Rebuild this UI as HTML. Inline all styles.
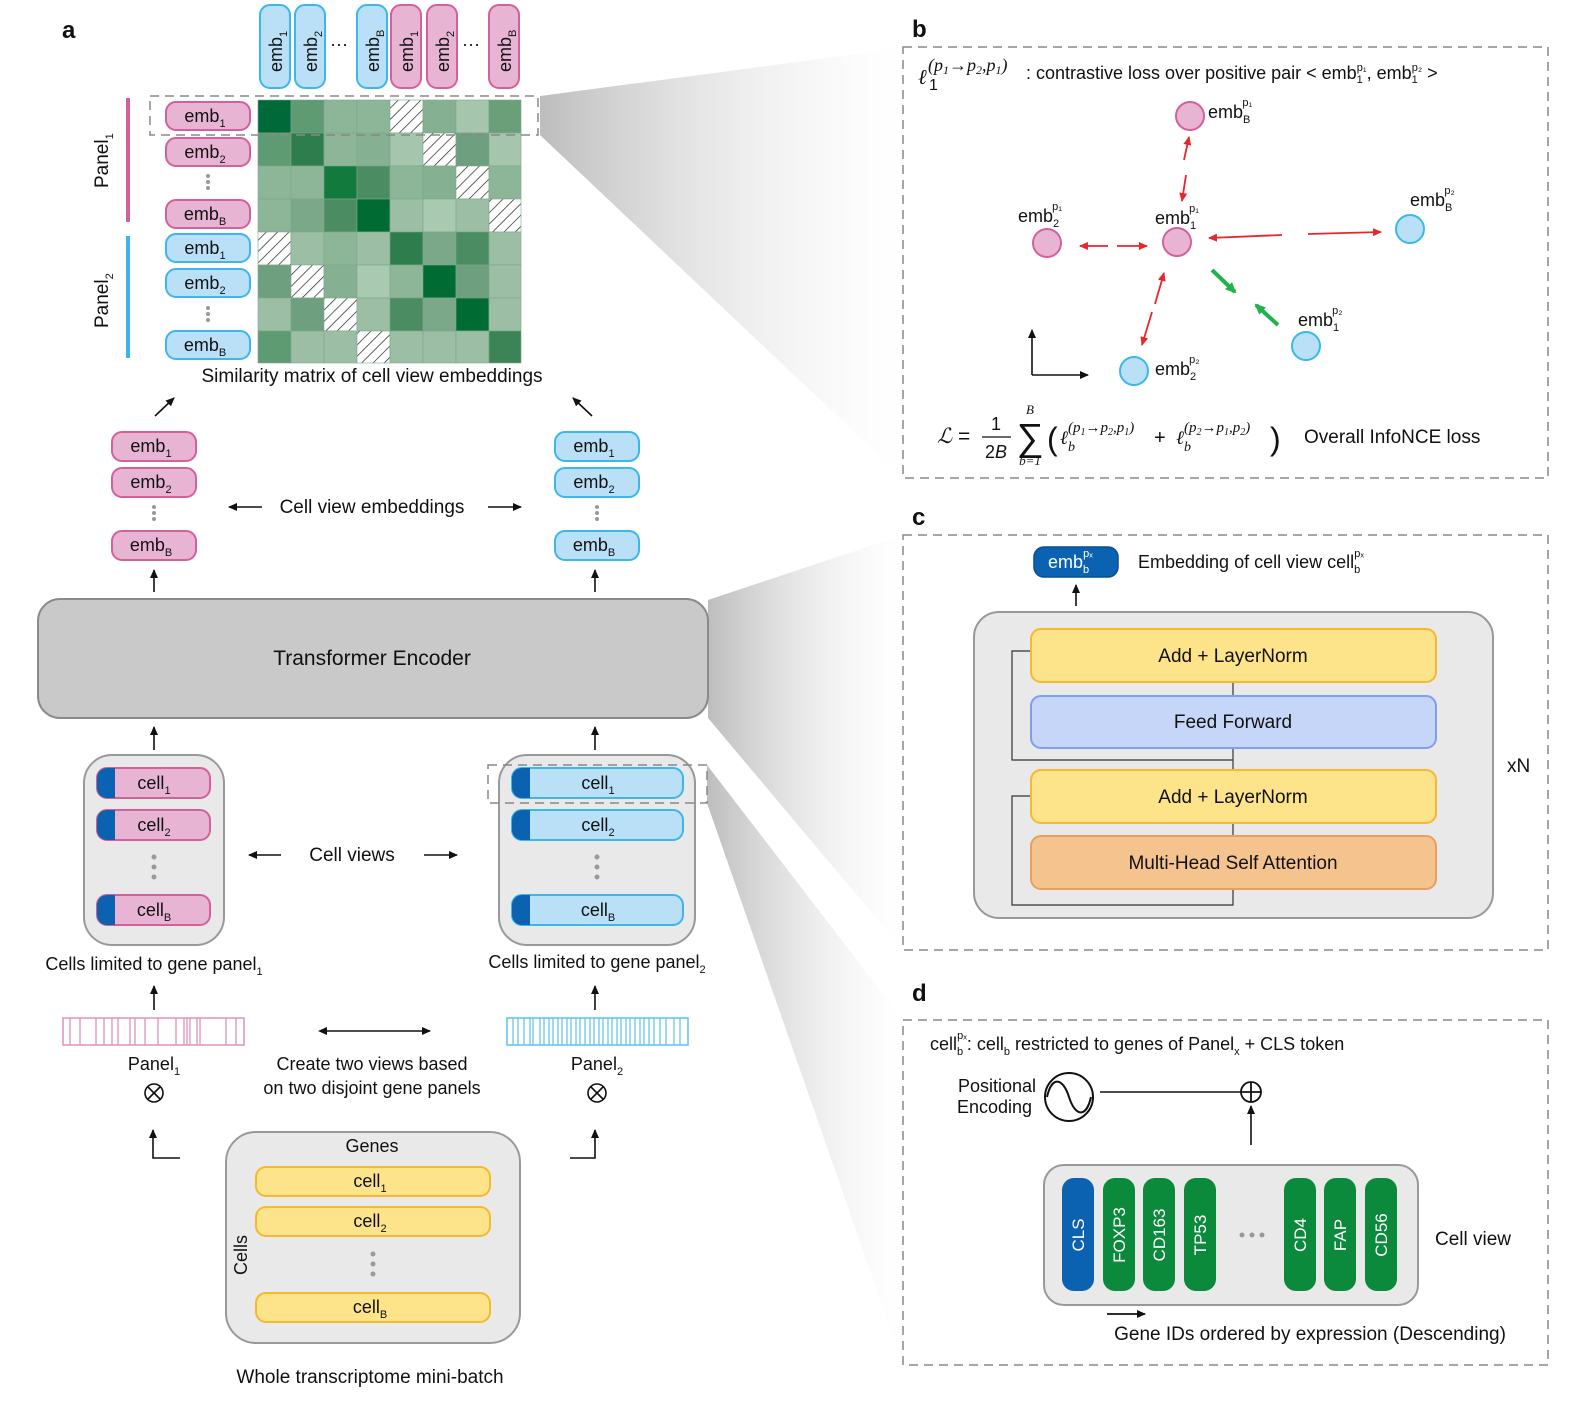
<!DOCTYPE html>
<html><head><meta charset="utf-8"><style>
html,body{margin:0;padding:0;background:#fff}
svg{display:block}
text{font-family:"Liberation Sans",Arial,sans-serif;fill:#111}
.s{font-size:11px}
.m{font-family:"DejaVu Serif","Liberation Serif",serif;font-style:italic}
.mi{font-family:"Liberation Serif",serif;font-style:italic}
</style></head><body>
<svg width="1586" height="1414" viewBox="0 0 1586 1414" xmlns="http://www.w3.org/2000/svg">
<defs>
<linearGradient id="g1" x1="0" x2="1" y1="0" y2="0"><stop offset="0" stop-color="#bdbdbd"/><stop offset="1" stop-color="#fff" stop-opacity="0.3"/></linearGradient>
<pattern id="hatch" width="8" height="8" patternUnits="userSpaceOnUse" patternTransform="rotate(45)"><rect width="8" height="8" fill="#fff"/><line x1="0" y1="0" x2="0" y2="8" stroke="#222" stroke-width="1.4"/></pattern>
<marker id="ah" markerWidth="10" markerHeight="10" refX="8" refY="5" orient="auto" markerUnits="userSpaceOnUse"><path d="M0,1 L9,5 L0,9 z" fill="#111"/></marker>
<marker id="ar" markerWidth="10" markerHeight="10" refX="8" refY="5" orient="auto" markerUnits="userSpaceOnUse"><path d="M0,1 L9,5 L0,9 z" fill="#e8262b"/></marker>
<marker id="ag" markerWidth="12" markerHeight="12" refX="9" refY="6" orient="auto" markerUnits="userSpaceOnUse"><path d="M0,1 L11,6 L0,11 z" fill="#22b24c"/></marker>
</defs>

<polygon points="540,96 903,48 903,478 540,135" fill="url(#g1)"/>
<polygon points="708,600 903,535 903,950 708,718" fill="url(#g1)"/>
<polygon points="707,765 903,1020 903,1365 707,803" fill="url(#g1)"/>

<text x="62" y="38" font-size="24" font-weight="bold">a</text>
<text x="912" y="37" font-size="24" font-weight="bold">b</text>
<text x="912" y="525" font-size="24" font-weight="bold">c</text>
<text x="912" y="1001" font-size="24" font-weight="bold">d</text>

<g font-size="18">
<g fill="#b9e0f7" stroke="#3bb7ea" stroke-width="2">
<rect x="260" y="5" width="30" height="83" rx="10"/><rect x="295" y="5" width="30" height="83" rx="10"/><rect x="357" y="5" width="30" height="83" rx="10"/>
</g>
<g fill="#e8b4d4" stroke="#d4609a" stroke-width="2">
<rect x="391" y="5" width="30" height="83" rx="10"/><rect x="427" y="5" width="30" height="83" rx="10"/><rect x="489" y="5" width="30" height="83" rx="10"/>
</g>
<text transform="translate(282,72) rotate(-90)">emb<tspan class="s" dy="5">1</tspan></text>
<text transform="translate(317,72) rotate(-90)">emb<tspan class="s" dy="5">2</tspan></text>
<text transform="translate(379,72) rotate(-90)">emb<tspan class="s" dy="5">B</tspan></text>
<text transform="translate(413,72) rotate(-90)">emb<tspan class="s" dy="5">1</tspan></text>
<text transform="translate(449,72) rotate(-90)">emb<tspan class="s" dy="5">2</tspan></text>
<text transform="translate(511,72) rotate(-90)">emb<tspan class="s" dy="5">B</tspan></text>
<text x="330" y="50" fill="#999">···</text><text x="462" y="50" fill="#999">···</text>
</g>

<g stroke="#7aa888" stroke-width="0.6">
<rect x="258" y="100" width="33" height="33" fill="#00693a"/><rect x="291" y="100" width="33" height="33" fill="#5e9a72"/><rect x="324" y="100" width="33" height="33" fill="#8db598"/><rect x="357" y="100" width="33" height="33" fill="#8db598"/><rect x="390" y="100" width="33" height="33" fill="url(#hatch)"/><rect x="423" y="100" width="33" height="33" fill="#86b092"/><rect x="456" y="100" width="33" height="33" fill="#a6c5ad"/><rect x="489" y="100" width="32" height="33" fill="#6a9f7a"/>
<rect x="258" y="133" width="33" height="33" fill="#5e9a72"/><rect x="291" y="133" width="33" height="33" fill="#2e7d4c"/><rect x="324" y="133" width="33" height="33" fill="#8db598"/><rect x="357" y="133" width="33" height="33" fill="#86b092"/><rect x="390" y="133" width="33" height="33" fill="#a6c5ad"/><rect x="423" y="133" width="33" height="33" fill="url(#hatch)"/><rect x="456" y="133" width="33" height="33" fill="#6e9f7e"/><rect x="489" y="133" width="32" height="33" fill="#a6c5ad"/>
<rect x="258" y="166" width="33" height="33" fill="#8db598"/><rect x="291" y="166" width="33" height="33" fill="#8db598"/><rect x="324" y="166" width="33" height="33" fill="#137a3e"/><rect x="357" y="166" width="33" height="33" fill="#4b8c62"/><rect x="390" y="166" width="33" height="33" fill="#8db598"/><rect x="423" y="166" width="33" height="33" fill="#86b092"/><rect x="456" y="166" width="33" height="33" fill="url(#hatch)"/><rect x="489" y="166" width="32" height="33" fill="#8db598"/>
<rect x="258" y="199" width="33" height="33" fill="#8db598"/><rect x="291" y="199" width="33" height="33" fill="#7ba888"/><rect x="324" y="199" width="33" height="33" fill="#4b8c62"/><rect x="357" y="199" width="33" height="33" fill="#006b33"/><rect x="390" y="199" width="33" height="33" fill="#9bbea4"/><rect x="423" y="199" width="33" height="33" fill="#aac9b1"/><rect x="456" y="199" width="33" height="33" fill="#9bbea4"/><rect x="489" y="199" width="32" height="33" fill="url(#hatch)"/>
<rect x="258" y="232" width="33" height="33" fill="url(#hatch)"/><rect x="291" y="232" width="33" height="33" fill="#9bbea4"/><rect x="324" y="232" width="33" height="33" fill="#8db598"/><rect x="357" y="232" width="33" height="33" fill="#9bbea4"/><rect x="390" y="232" width="33" height="33" fill="#2e7d4c"/><rect x="423" y="232" width="33" height="33" fill="#7ba888"/><rect x="456" y="232" width="33" height="33" fill="#4b8c62"/><rect x="489" y="232" width="32" height="33" fill="#9bbea4"/>
<rect x="258" y="265" width="33" height="33" fill="#6e9f7e"/><rect x="291" y="265" width="33" height="33" fill="url(#hatch)"/><rect x="324" y="265" width="33" height="33" fill="#86b092"/><rect x="357" y="265" width="33" height="33" fill="#aac9b1"/><rect x="390" y="265" width="33" height="33" fill="#8db598"/><rect x="423" y="265" width="33" height="33" fill="#006b33"/><rect x="456" y="265" width="33" height="33" fill="#6e9f7e"/><rect x="489" y="265" width="32" height="33" fill="#9bbea4"/>
<rect x="258" y="298" width="33" height="33" fill="#9bbea4"/><rect x="291" y="298" width="33" height="33" fill="#6e9f7e"/><rect x="324" y="298" width="33" height="33" fill="url(#hatch)"/><rect x="357" y="298" width="33" height="33" fill="#9bbea4"/><rect x="390" y="298" width="33" height="33" fill="#4b8c62"/><rect x="423" y="298" width="33" height="33" fill="#7ba888"/><rect x="456" y="298" width="33" height="33" fill="#006b33"/><rect x="489" y="298" width="32" height="33" fill="#9bbea4"/>
<rect x="258" y="331" width="33" height="32" fill="#5e9a72"/><rect x="291" y="331" width="33" height="32" fill="#9bbea4"/><rect x="324" y="331" width="33" height="32" fill="#9bbea4"/><rect x="357" y="331" width="33" height="32" fill="url(#hatch)"/><rect x="390" y="331" width="33" height="32" fill="#9bbea4"/><rect x="423" y="331" width="33" height="32" fill="#9bbea4"/><rect x="456" y="331" width="33" height="32" fill="#9bbea4"/><rect x="489" y="331" width="32" height="32" fill="#3c8455"/>
</g>
<rect x="150" y="96" width="388" height="39" fill="none" stroke="#888" stroke-width="1.5" stroke-dasharray="9,6"/>

<g font-size="18" text-anchor="middle">
<g fill="#e8b4d4" stroke="#d4609a" stroke-width="2">
<rect x="166" y="102" width="84" height="28" rx="10"/><rect x="166" y="138" width="84" height="28" rx="10"/><rect x="166" y="200" width="84" height="28" rx="10"/>
</g>
<g fill="#b9e0f7" stroke="#3bb7ea" stroke-width="2">
<rect x="166" y="234" width="84" height="28" rx="10"/><rect x="166" y="269" width="84" height="28" rx="10"/><rect x="166" y="331" width="84" height="28" rx="10"/>
</g>
<text x="205" y="122">emb<tspan class="s" dy="5">1</tspan></text>
<text x="205" y="158">emb<tspan class="s" dy="5">2</tspan></text>
<text x="205" y="220">emb<tspan class="s" dy="5">B</tspan></text>
<text x="205" y="254">emb<tspan class="s" dy="5">1</tspan></text>
<text x="205" y="289">emb<tspan class="s" dy="5">2</tspan></text>
<text x="205" y="351">emb<tspan class="s" dy="5">B</tspan></text>
</g>
<g fill="#999"><circle cx="208" cy="176" r="2"/><circle cx="208" cy="182" r="2"/><circle cx="208" cy="188" r="2"/><circle cx="208" cy="308" r="2"/><circle cx="208" cy="314" r="2"/><circle cx="208" cy="320" r="2"/></g>
<rect x="126" y="98" width="4" height="124" fill="#d4609a"/>
<rect x="126" y="236" width="4" height="122" fill="#3bb7ea"/>
<text transform="translate(108,188) rotate(-90)" font-size="19">Panel<tspan class="s" dy="5">1</tspan></text>
<text transform="translate(108,328) rotate(-90)" font-size="19">Panel<tspan class="s" dy="5">2</tspan></text>
<text x="372" y="382" font-size="19" text-anchor="middle">Similarity matrix of cell view embeddings</text>

<line x1="155" y1="416" x2="174" y2="398" stroke="#111" stroke-width="1.6" marker-end="url(#ah)"/>
<line x1="592" y1="416" x2="573" y2="398" stroke="#111" stroke-width="1.6" marker-end="url(#ah)"/>

<g font-size="18" text-anchor="middle">
<g fill="#e8b4d4" stroke="#d4609a" stroke-width="2">
<rect x="112" y="432" width="84" height="29" rx="10"/><rect x="112" y="468" width="84" height="29" rx="10"/><rect x="112" y="531" width="84" height="29" rx="10"/>
</g>
<g fill="#b9e0f7" stroke="#3bb7ea" stroke-width="2">
<rect x="555" y="432" width="84" height="29" rx="10"/><rect x="555" y="468" width="84" height="29" rx="10"/><rect x="555" y="531" width="84" height="29" rx="10"/>
</g>
<text x="151" y="452">emb<tspan class="s" dy="5">1</tspan></text>
<text x="151" y="488">emb<tspan class="s" dy="5">2</tspan></text>
<text x="151" y="551">emb<tspan class="s" dy="5">B</tspan></text>
<text x="594" y="452">emb<tspan class="s" dy="5">1</tspan></text>
<text x="594" y="488">emb<tspan class="s" dy="5">2</tspan></text>
<text x="594" y="551">emb<tspan class="s" dy="5">B</tspan></text>
</g>
<g fill="#999"><circle cx="154" cy="507" r="2"/><circle cx="154" cy="513" r="2"/><circle cx="154" cy="519" r="2"/><circle cx="597" cy="507" r="2"/><circle cx="597" cy="513" r="2"/><circle cx="597" cy="519" r="2"/></g>
<text x="372" y="513" font-size="19" text-anchor="middle">Cell view embeddings</text>
<line x1="262" y1="507" x2="229" y2="507" stroke="#111" stroke-width="1.6" marker-end="url(#ah)"/>
<line x1="488" y1="507" x2="521" y2="507" stroke="#111" stroke-width="1.6" marker-end="url(#ah)"/>
<line x1="154" y1="592" x2="154" y2="570" stroke="#111" stroke-width="1.6" marker-end="url(#ah)"/>
<line x1="595" y1="592" x2="595" y2="570" stroke="#111" stroke-width="1.6" marker-end="url(#ah)"/>

<rect x="38" y="599" width="670" height="119" rx="22" fill="#c9c9c9" stroke="#8a8a8a" stroke-width="2"/>
<text x="372" y="665" font-size="21" text-anchor="middle">Transformer Encoder</text>
<line x1="154" y1="750" x2="154" y2="727" stroke="#111" stroke-width="1.6" marker-end="url(#ah)"/>
<line x1="595" y1="750" x2="595" y2="727" stroke="#111" stroke-width="1.6" marker-end="url(#ah)"/>

<rect x="84" y="755" width="140" height="190" rx="28" fill="#e9e9e9" stroke="#999" stroke-width="2"/>
<rect x="499" y="755" width="196" height="190" rx="28" fill="#e9e9e9" stroke="#999" stroke-width="2"/>
<g font-size="18" text-anchor="middle">
<g fill="#e8b4d4" stroke="#d4609a" stroke-width="2">
<rect x="97" y="768" width="113" height="30" rx="10"/><rect x="97" y="810" width="113" height="30" rx="10"/><rect x="97" y="895" width="113" height="30" rx="10"/>
</g>
<g fill="#b9e0f7" stroke="#3bb7ea" stroke-width="2">
<rect x="512" y="768" width="171" height="30" rx="10"/><rect x="512" y="810" width="171" height="30" rx="10"/><rect x="512" y="895" width="171" height="30" rx="10"/>
</g>
<g fill="#0b62b0">
<path d="M107,768 h8 v30 h-8 a10,10 0 0 1 -10,-10 v-10 a10,10 0 0 1 10,-10z"/>
<path d="M107,810 h8 v30 h-8 a10,10 0 0 1 -10,-10 v-10 a10,10 0 0 1 10,-10z"/>
<path d="M107,895 h8 v30 h-8 a10,10 0 0 1 -10,-10 v-10 a10,10 0 0 1 10,-10z"/>
<path d="M522,768 h8 v30 h-8 a10,10 0 0 1 -10,-10 v-10 a10,10 0 0 1 10,-10z"/>
<path d="M522,810 h8 v30 h-8 a10,10 0 0 1 -10,-10 v-10 a10,10 0 0 1 10,-10z"/>
<path d="M522,895 h8 v30 h-8 a10,10 0 0 1 -10,-10 v-10 a10,10 0 0 1 10,-10z"/>
</g>
<text x="154" y="789">cell<tspan class="s" dy="5">1</tspan></text>
<text x="154" y="831">cell<tspan class="s" dy="5">2</tspan></text>
<text x="154" y="916">cell<tspan class="s" dy="5">B</tspan></text>
<text x="598" y="789">cell<tspan class="s" dy="5">1</tspan></text>
<text x="598" y="831">cell<tspan class="s" dy="5">2</tspan></text>
<text x="598" y="916">cell<tspan class="s" dy="5">B</tspan></text>
</g>
<g fill="#999"><circle cx="154" cy="857" r="2.5"/><circle cx="154" cy="867" r="2.5"/><circle cx="154" cy="877" r="2.5"/><circle cx="597" cy="857" r="2.5"/><circle cx="597" cy="867" r="2.5"/><circle cx="597" cy="877" r="2.5"/></g>
<rect x="488" y="765" width="219" height="38" fill="none" stroke="#888" stroke-width="1.5" stroke-dasharray="9,6"/>
<text x="352" y="861" font-size="19" text-anchor="middle">Cell views</text>
<line x1="281" y1="855" x2="249" y2="855" stroke="#111" stroke-width="1.6" marker-end="url(#ah)"/>
<line x1="424" y1="855" x2="457" y2="855" stroke="#111" stroke-width="1.6" marker-end="url(#ah)"/>
<text x="154" y="970" font-size="18" text-anchor="middle">Cells limited to gene panel<tspan class="s" dy="5">1</tspan></text>
<text x="597" y="968" font-size="18" text-anchor="middle">Cells limited to gene panel<tspan class="s" dy="5">2</tspan></text>
<line x1="154" y1="1010" x2="154" y2="986" stroke="#111" stroke-width="1.6" marker-end="url(#ah)"/>
<line x1="595" y1="1010" x2="595" y2="986" stroke="#111" stroke-width="1.6" marker-end="url(#ah)"/>

<rect x="63" y="1018" width="181" height="27" fill="#fff" stroke="#e090bb" stroke-width="1.5"/>
<g stroke="#e090bb" stroke-width="1.3">
<line x1="70" y1="1018" x2="70" y2="1045"/><line x1="80" y1="1018" x2="80" y2="1045"/><line x1="96" y1="1018" x2="96" y2="1045"/><line x1="104" y1="1018" x2="104" y2="1045"/><line x1="112" y1="1018" x2="112" y2="1045"/><line x1="118" y1="1018" x2="118" y2="1045"/><line x1="130" y1="1018" x2="130" y2="1045"/><line x1="135" y1="1018" x2="135" y2="1045"/><line x1="145" y1="1018" x2="145" y2="1045"/><line x1="158" y1="1018" x2="158" y2="1045"/><line x1="176" y1="1018" x2="176" y2="1045"/><line x1="184" y1="1018" x2="184" y2="1045"/><line x1="187" y1="1018" x2="187" y2="1045"/><line x1="190" y1="1018" x2="190" y2="1045"/><line x1="197" y1="1018" x2="197" y2="1045"/><line x1="200" y1="1018" x2="200" y2="1045"/><line x1="226" y1="1018" x2="226" y2="1045"/><line x1="236" y1="1018" x2="236" y2="1045"/>
</g>
<rect x="507" y="1018" width="181" height="27" fill="#fff" stroke="#5bc3ee" stroke-width="1.5"/>
<g stroke="#5bc3ee" stroke-width="1.2">
<line x1="513" y1="1018" x2="513" y2="1045"/><line x1="518" y1="1018" x2="518" y2="1045"/><line x1="524" y1="1018" x2="524" y2="1045"/><line x1="530" y1="1018" x2="530" y2="1045"/><line x1="533" y1="1018" x2="533" y2="1045"/><line x1="540" y1="1018" x2="540" y2="1045"/><line x1="544" y1="1018" x2="544" y2="1045"/><line x1="549" y1="1018" x2="549" y2="1045"/><line x1="553" y1="1018" x2="553" y2="1045"/><line x1="558" y1="1018" x2="558" y2="1045"/><line x1="562" y1="1018" x2="562" y2="1045"/><line x1="567" y1="1018" x2="567" y2="1045"/><line x1="571" y1="1018" x2="571" y2="1045"/><line x1="576" y1="1018" x2="576" y2="1045"/><line x1="580" y1="1018" x2="580" y2="1045"/><line x1="585" y1="1018" x2="585" y2="1045"/><line x1="590" y1="1018" x2="590" y2="1045"/><line x1="594" y1="1018" x2="594" y2="1045"/><line x1="599" y1="1018" x2="599" y2="1045"/><line x1="603" y1="1018" x2="603" y2="1045"/><line x1="608" y1="1018" x2="608" y2="1045"/><line x1="612" y1="1018" x2="612" y2="1045"/><line x1="617" y1="1018" x2="617" y2="1045"/><line x1="621" y1="1018" x2="621" y2="1045"/><line x1="626" y1="1018" x2="626" y2="1045"/><line x1="630" y1="1018" x2="630" y2="1045"/><line x1="635" y1="1018" x2="635" y2="1045"/><line x1="640" y1="1018" x2="640" y2="1045"/><line x1="644" y1="1018" x2="644" y2="1045"/><line x1="649" y1="1018" x2="649" y2="1045"/><line x1="654" y1="1018" x2="654" y2="1045"/><line x1="660" y1="1018" x2="660" y2="1045"/><line x1="666" y1="1018" x2="666" y2="1045"/><line x1="674" y1="1018" x2="674" y2="1045"/><line x1="680" y1="1018" x2="680" y2="1045"/>
</g>
<line x1="320" y1="1031" x2="430" y2="1031" stroke="#111" stroke-width="1.6" marker-end="url(#ah)"/>
<path d="M318,1031 l9,-4 v8z" fill="#111"/>
<text x="154" y="1070" font-size="18" text-anchor="middle">Panel<tspan class="s" dy="5">1</tspan></text>
<text x="597" y="1070" font-size="18" text-anchor="middle">Panel<tspan class="s" dy="5">2</tspan></text>
<text x="372" y="1070" font-size="18" text-anchor="middle">Create two views based</text>
<text x="372" y="1094" font-size="18" text-anchor="middle">on two disjoint gene panels</text>
<g stroke="#111" stroke-width="1.6" fill="none">
<circle cx="154" cy="1093" r="9"/><line x1="148" y1="1087" x2="160" y2="1099"/><line x1="160" y1="1087" x2="148" y2="1099"/>
<circle cx="597" cy="1093" r="9"/><line x1="591" y1="1087" x2="603" y2="1099"/><line x1="603" y1="1087" x2="591" y2="1099"/>
</g>
<polyline points="180,1158 153,1158 153,1130" fill="none" stroke="#111" stroke-width="1.6" marker-end="url(#ah)"/>
<polyline points="570,1158 595,1158 595,1130" fill="none" stroke="#111" stroke-width="1.6" marker-end="url(#ah)"/>

<rect x="226" y="1132" width="294" height="211" rx="30" fill="#e9e9e9" stroke="#999" stroke-width="2"/>
<text x="372" y="1152" font-size="18" text-anchor="middle">Genes</text>
<text transform="translate(247,1275) rotate(-90)" font-size="18">Cells</text>
<g fill="#fde38a" stroke="#f5b82e" stroke-width="2">
<rect x="256" y="1167" width="234" height="29" rx="10"/><rect x="256" y="1207" width="234" height="29" rx="10"/><rect x="256" y="1293" width="234" height="29" rx="10"/>
</g>
<g font-size="18" text-anchor="middle">
<text x="370" y="1187">cell<tspan class="s" dy="5">1</tspan></text>
<text x="370" y="1227">cell<tspan class="s" dy="5">2</tspan></text>
<text x="370" y="1313">cell<tspan class="s" dy="5">B</tspan></text>
</g>
<g fill="#999"><circle cx="373" cy="1254" r="2.5"/><circle cx="373" cy="1264" r="2.5"/><circle cx="373" cy="1274" r="2.5"/></g>
<text x="370" y="1383" font-size="19" text-anchor="middle">Whole transcriptome mini-batch</text>

<g fill="#fff" stroke="#888" stroke-width="1.5" stroke-dasharray="9,6">
<rect x="903" y="47" width="645" height="431"/>
<rect x="903" y="535" width="645" height="415"/>
<rect x="903" y="1020" width="645" height="345"/>
</g>

<!-- panel b -->
<text x="918" y="84" font-size="21" class="m">ℓ</text>
<text x="928" y="71" font-size="18" class="mi">(p<tspan font-size="12" dy="3">1</tspan><tspan dy="-3">→p</tspan><tspan font-size="12" dy="3">2</tspan><tspan dy="-3">,p</tspan><tspan font-size="12" dy="3">1</tspan><tspan dy="-3">)</tspan></text>
<text x="929" y="90" font-size="16" font-family="Liberation Serif">1</text>
<text x="1026" y="79" font-size="18">: contrastive loss over positive pair &lt; emb<tspan class="s" dy="4">1</tspan><tspan class="s" dx="-6" dy="-12">p₁</tspan><tspan dy="8">, emb</tspan><tspan class="s" dy="4">1</tspan><tspan class="s" dx="-6" dy="-12">p₂</tspan><tspan dy="8"> &gt;</tspan></text>
<g stroke-width="2">
<circle cx="1190" cy="116" r="14" fill="#e8b4d4" stroke="#d4609a"/>
<circle cx="1047" cy="243" r="14" fill="#e8b4d4" stroke="#d4609a"/>
<circle cx="1177" cy="242" r="14" fill="#e8b4d4" stroke="#d4609a"/>
<circle cx="1410" cy="229" r="14" fill="#b9e0f7" stroke="#3bb7ea"/>
<circle cx="1306" cy="346" r="14" fill="#b9e0f7" stroke="#3bb7ea"/>
<circle cx="1134" cy="371" r="14" fill="#b9e0f7" stroke="#3bb7ea"/>
</g>
<g font-size="18">
<text x="1208" y="118">emb<tspan class="s" dy="5">B</tspan><tspan class="s" dx="-8" dy="-17">p₁</tspan></text>
<text x="1018" y="222">emb<tspan class="s" dy="5">2</tspan><tspan class="s" dx="-7" dy="-17">p₁</tspan></text>
<text x="1155" y="224">emb<tspan class="s" dy="5">1</tspan><tspan class="s" dx="-7" dy="-17">p₁</tspan></text>
<text x="1410" y="206">emb<tspan class="s" dy="5">B</tspan><tspan class="s" dx="-8" dy="-17">p₂</tspan></text>
<text x="1298" y="326">emb<tspan class="s" dy="5">1</tspan><tspan class="s" dx="-7" dy="-17">p₂</tspan></text>
<text x="1155" y="375">emb<tspan class="s" dy="5">2</tspan><tspan class="s" dx="-7" dy="-17">p₂</tspan></text>
</g>
<g stroke="#e8262b" stroke-width="1.8">
<line x1="1184" y1="160" x2="1189" y2="137" marker-end="url(#ar)"/>
<line x1="1186" y1="175" x2="1182" y2="201" marker-end="url(#ar)"/>
<line x1="1108" y1="246" x2="1080" y2="246" marker-end="url(#ar)"/>
<line x1="1117" y1="246" x2="1147" y2="246" marker-end="url(#ar)"/>
<line x1="1282" y1="235" x2="1209" y2="238" marker-end="url(#ar)"/>
<line x1="1308" y1="234" x2="1381" y2="232" marker-end="url(#ar)"/>
<line x1="1155" y1="304" x2="1164" y2="273" marker-end="url(#ar)"/>
<line x1="1152" y1="312" x2="1142" y2="345" marker-end="url(#ar)"/>
</g>
<g stroke="#22b24c" stroke-width="4">
<line x1="1212" y1="270" x2="1235" y2="292" marker-end="url(#ag)"/>
<line x1="1278" y1="325" x2="1256" y2="305" marker-end="url(#ag)"/>
</g>
<polyline points="1032,375 1032,330" fill="none" stroke="#111" stroke-width="1.6" marker-end="url(#ah)"/>
<polyline points="1032,375 1088,375" fill="none" stroke="#111" stroke-width="1.6" marker-end="url(#ah)"/>

<text x="937" y="443" font-size="21" class="m">ℒ</text>
<text x="958" y="443" font-size="21" font-family="Liberation Serif">=</text>
<text x="996" y="430" font-size="18" font-family="Liberation Serif" text-anchor="middle">1</text>
<line x1="982" y1="437" x2="1011" y2="437" stroke="#111" stroke-width="1.2"/>
<text x="996" y="458" font-size="18" font-family="Liberation Serif" text-anchor="middle">2<tspan font-style="italic">B</tspan></text>
<text x="1030" y="450" font-size="38" font-family="DejaVu Serif" text-anchor="middle">∑</text>
<text x="1030" y="414" font-size="13" class="mi" text-anchor="middle">B</text>
<text x="1030" y="465" font-size="13" class="mi" text-anchor="middle">b=1</text>
<text x="1047" y="450" font-size="32" font-family="Liberation Serif">(</text>
<text x="1060" y="444" font-size="19" class="m">ℓ</text>
<text x="1068" y="432" font-size="15" class="mi">(p<tspan font-size="10" dy="3">1</tspan><tspan dy="-3">→p</tspan><tspan font-size="10" dy="3">2</tspan><tspan dy="-3">,p</tspan><tspan font-size="10" dy="3">1</tspan><tspan dy="-3">)</tspan></text>
<text x="1068" y="451" font-size="14" class="mi">b</text>
<text x="1154" y="444" font-size="20" font-family="Liberation Serif">+</text>
<text x="1176" y="444" font-size="19" class="m">ℓ</text>
<text x="1184" y="432" font-size="15" class="mi">(p<tspan font-size="10" dy="3">2</tspan><tspan dy="-3">→p</tspan><tspan font-size="10" dy="3">1</tspan><tspan dy="-3">,p</tspan><tspan font-size="10" dy="3">2</tspan><tspan dy="-3">)</tspan></text>
<text x="1184" y="451" font-size="14" class="mi">b</text>
<text x="1270" y="450" font-size="32" font-family="Liberation Serif">)</text>
<text x="1304" y="443" font-size="19">Overall InfoNCE loss</text>

<!-- panel c -->
<rect x="1034" y="547" width="84" height="30" rx="10" fill="#0b62b0" stroke="#0a4f90" stroke-width="1.5"/>
<text x="1048" y="568" font-size="18" style="fill:#fff">emb<tspan class="s" dy="5" style="fill:#fff">b</tspan><tspan class="s" dx="-6" dy="-16" style="fill:#fff">pₓ</tspan></text>
<text x="1138" y="568" font-size="18">Embedding of cell view cell<tspan class="s" dy="5">b</tspan><tspan class="s" dx="-6" dy="-16">pₓ</tspan></text>
<line x1="1076" y1="606" x2="1076" y2="585" stroke="#111" stroke-width="1.6" marker-end="url(#ah)"/>
<rect x="974" y="612" width="519" height="306" rx="25" fill="#e9e9e9" stroke="#999" stroke-width="2"/>
<g fill="none" stroke="#333" stroke-width="1.2">
<polyline points="1031,651 1012,651 1012,760 1233,760"/>
<polyline points="1031,796 1012,796 1012,905 1233,905 1233,889"/>
<line x1="1233" y1="682" x2="1233" y2="696"/>
<line x1="1233" y1="748" x2="1233" y2="770"/>
<line x1="1233" y1="823" x2="1233" y2="836"/>
</g>
<rect x="1031" y="629" width="405" height="53" rx="10" fill="#fde38a" stroke="#f5b82e" stroke-width="2"/>
<rect x="1031" y="696" width="405" height="52" rx="10" fill="#c5d6f8" stroke="#7f9ef0" stroke-width="2"/>
<rect x="1031" y="770" width="405" height="53" rx="10" fill="#fde38a" stroke="#f5b82e" stroke-width="2"/>
<rect x="1031" y="836" width="405" height="53" rx="10" fill="#f5c38e" stroke="#e8a060" stroke-width="2"/>
<g font-size="19" text-anchor="middle">
<text x="1233" y="662">Add + LayerNorm</text>
<text x="1233" y="728">Feed Forward</text>
<text x="1233" y="803">Add + LayerNorm</text>
<text x="1233" y="869">Multi-Head Self Attention</text>
</g>
<text x="1507" y="772" font-size="19">xN</text>

<!-- panel d -->
<text x="930" y="1050" font-size="18">cell<tspan class="s" dy="5">b</tspan><tspan class="s" dx="-6" dy="-16">pₓ</tspan><tspan dy="11">: cell</tspan><tspan class="s" dy="5">b</tspan><tspan dy="-5"> restricted to genes of Panel</tspan><tspan class="s" dy="5">x</tspan><tspan dy="-5"> + CLS token</tspan></text>
<text x="1036" y="1092" font-size="18" text-anchor="end">Positional</text>
<text x="1032" y="1113" font-size="18" text-anchor="end">Encoding</text>
<circle cx="1069" cy="1097" r="24" fill="none" stroke="#111" stroke-width="2"/>
<path d="M1047,1097 C1052,1075 1063,1078 1069,1097 C1075,1116 1086,1119 1091,1097" fill="none" stroke="#111" stroke-width="2"/>
<line x1="1100" y1="1092" x2="1241" y2="1092" stroke="#111" stroke-width="1.4"/>
<circle cx="1251" cy="1092" r="10" fill="none" stroke="#111" stroke-width="1.8"/>
<line x1="1241" y1="1092" x2="1261" y2="1092" stroke="#111" stroke-width="1.8"/>
<line x1="1251" y1="1082" x2="1251" y2="1102" stroke="#111" stroke-width="1.8"/>
<line x1="1251" y1="1145" x2="1251" y2="1106" stroke="#111" stroke-width="1.6" marker-end="url(#ah)"/>
<rect x="1044" y="1165" width="374" height="140" rx="20" fill="#e9e9e9" stroke="#999" stroke-width="2"/>
<rect x="1062" y="1178" width="32" height="113" rx="12" fill="#0b62b0"/>
<g fill="#0a8a3a">
<rect x="1103" y="1178" width="32" height="113" rx="12"/><rect x="1143" y="1178" width="32" height="113" rx="12"/><rect x="1184" y="1178" width="32" height="113" rx="12"/>
<rect x="1284" y="1178" width="32" height="113" rx="12"/><rect x="1324" y="1178" width="32" height="113" rx="12"/><rect x="1365" y="1178" width="32" height="113" rx="12"/>
</g>
<g font-size="17" text-anchor="middle">
<text transform="translate(1084,1235) rotate(-90)" style="fill:#fff">CLS</text>
<text transform="translate(1125,1235) rotate(-90)" style="fill:#fff">FOXP3</text>
<text transform="translate(1165,1235) rotate(-90)" style="fill:#fff">CD163</text>
<text transform="translate(1206,1235) rotate(-90)" style="fill:#fff">TP53</text>
<text transform="translate(1306,1235) rotate(-90)" style="fill:#fff">CD4</text>
<text transform="translate(1346,1235) rotate(-90)" style="fill:#fff">FAP</text>
<text transform="translate(1387,1235) rotate(-90)" style="fill:#fff">CD56</text>
</g>
<g fill="#999"><circle cx="1242" cy="1235" r="2.5"/><circle cx="1252" cy="1235" r="2.5"/><circle cx="1262" cy="1235" r="2.5"/></g>
<text x="1435" y="1245" font-size="19">Cell view</text>
<line x1="1107" y1="1314" x2="1145" y2="1314" stroke="#111" stroke-width="1.8" marker-end="url(#ah)"/>
<text x="1310" y="1340" font-size="19" text-anchor="middle">Gene IDs ordered by expression (Descending)</text>
</svg>
</body></html>
